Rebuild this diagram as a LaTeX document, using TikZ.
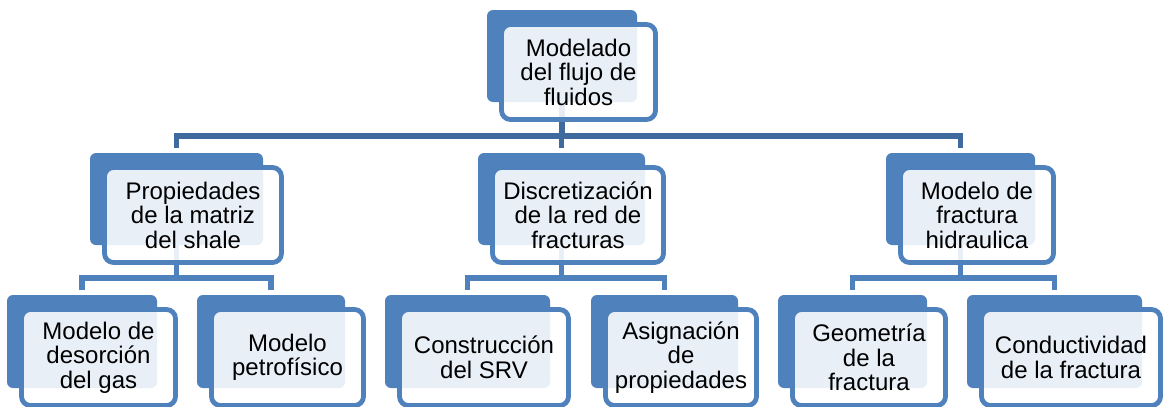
\documentclass[tikz,border=0pt]{standalone}
\usepackage{fontspec}
\setmainfont{Liberation Sans}
\definecolor{acc}{HTML}{4F81BD}
\definecolor{accdark}{HTML}{3E6A9E}
\tikzset{
 backbox/.style={fill=acc, draw=none, rounded corners=6pt, inner sep=0pt},
 frontbox/.style={draw=acc, line width=4.8pt, fill=white, fill opacity=0.88, text opacity=1,
   rounded corners=9pt, inner sep=0pt, align=center, font=\fontsize{24}{24.5}\selectfont},
 conn/.style={draw=acc, line width=5.5pt, shorten >=5pt},
 conntop/.style={conn, draw=accdark}
}
\begin{document}
\begin{tikzpicture}[x=1pt,y=-1pt]
\useasboundingbox (0,0) rectangle (1163,407);
% back boxes
\node[backbox, minimum width=150pt, minimum height=92pt] (top-b) at (562,56) {};
\node[backbox, minimum width=173pt, minimum height=92pt] (a-b) at (176.5,199) {};
\node[backbox, minimum width=167pt, minimum height=92pt] (b-b) at (561.5,199) {};
\node[backbox, minimum width=149pt, minimum height=92pt] (c-b) at (960.5,199) {};
\node[backbox, minimum width=150pt, minimum height=93pt] (a1-b) at (82,341.5) {};
\node[backbox, minimum width=148pt, minimum height=93pt] (a2-b) at (271,341.5) {};
\node[backbox, minimum width=165pt, minimum height=93pt] (b1-b) at (467.5,341.5) {};
\node[backbox, minimum width=147pt, minimum height=93pt] (b2-b) at (664.5,341.5) {};
\node[backbox, minimum width=149pt, minimum height=93pt] (c1-b) at (852.5,341.5) {};
\node[backbox, minimum width=175pt, minimum height=93pt] (c2-b) at (1054.5,341.5) {};
% bar levels
\coordinate (bar1) at (0,136);
\coordinate (bar2) at (0,278);
% connectors
\draw[conntop] (top-b.south) -- (top-b.south |- bar1) -| (a-b.north);
\draw[conntop] (top-b.south) -- (top-b.south |- bar1) -| (b-b.north);
\draw[conntop] (top-b.south) -- (top-b.south |- bar1) -| (c-b.north);
\draw[conn] (a-b.south) -- (a-b.south |- bar2) -| (a1-b.north);
\draw[conn] (a-b.south) -- (a-b.south |- bar2) -| (a2-b.north);
\draw[conn] (b-b.south) -- (b-b.south |- bar2) -| (b1-b.north);
\draw[conn] (b-b.south) -- (b-b.south |- bar2) -| (b2-b.north);
\draw[conn] (c-b.south) -- (c-b.south |- bar2) -| (c1-b.north);
\draw[conn] (c-b.south) -- (c-b.south |- bar2) -| (c2-b.north);
% front boxes
\node[frontbox, minimum width=154pt, minimum height=95pt] (top) at (578.5,72) {Modelado\\del flujo de\\fluidos};
\node[frontbox, minimum width=177pt, minimum height=95pt] (a) at (193,215) {Propiedades\\de la matriz\\del shale};
\node[frontbox, minimum width=171pt, minimum height=95pt] (b) at (578,215) {Discretización\\de la red de\\fracturas};
\node[frontbox, minimum width=153pt, minimum height=95pt] (c) at (977,215) {Modelo de\\fractura\\hidraulica};
\node[frontbox, minimum width=154pt, minimum height=96pt] (a1) at (98.5,357.5) {Modelo de\\desorción\\del gas};
\node[frontbox, minimum width=152pt, minimum height=96pt] (a2) at (287.5,357.5) {Modelo\\petrofísico};
\node[frontbox, minimum width=169pt, minimum height=96pt] (b1) at (484,357.5) {Construcción\\del SRV};
\node[frontbox, minimum width=151pt, minimum height=96pt] (b2) at (681,357.5) {Asignación\\de\\propiedades};
\node[frontbox, minimum width=153pt, minimum height=96pt] (c1) at (869,357.5) {Geometría\\de la\\fractura};
\node[frontbox, minimum width=179pt, minimum height=96pt] (c2) at (1071,357.5) {Conductividad\\de la fractura};
\end{tikzpicture}
\end{document}
